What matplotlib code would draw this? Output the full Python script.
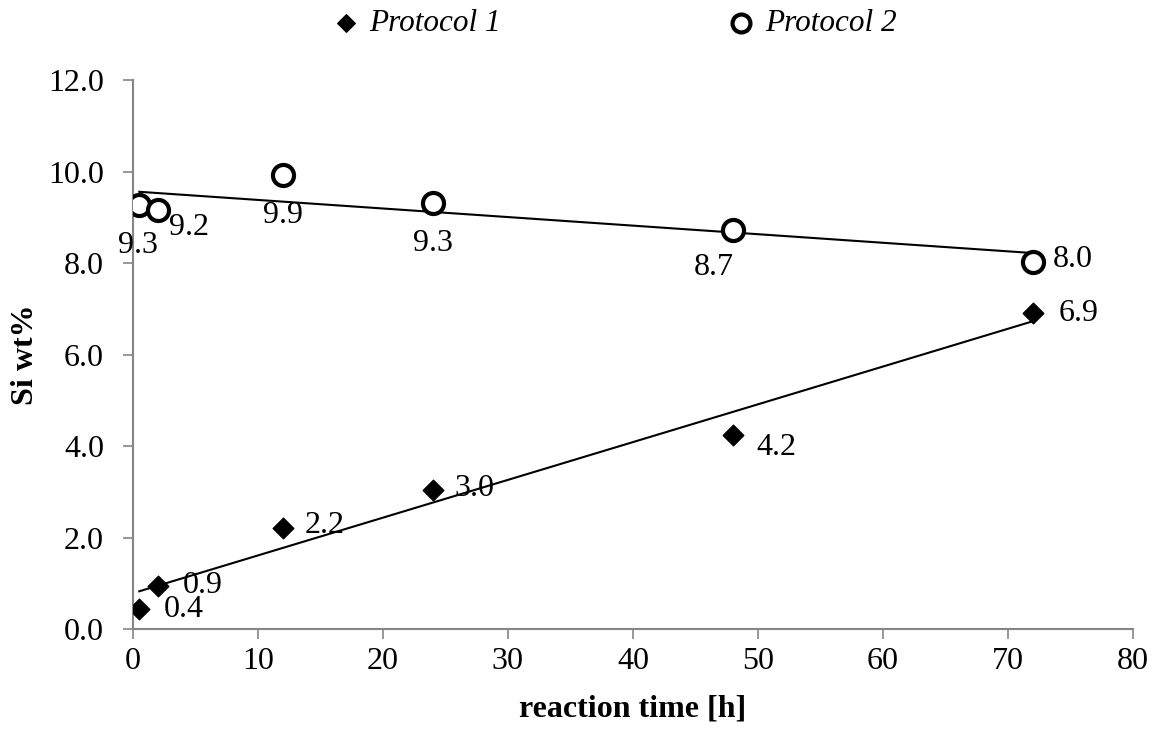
import numpy as np
import matplotlib.pyplot as plt

plt.rcParams['font.family'] = ['Liberation Serif', 'DejaVu Serif']

# reaction time [h]
time_h = [0.5, 2, 12, 24, 48, 72]
# Si wt% values
p1_si = [0.45, 0.95, 2.2, 3.05, 4.25, 6.9]
p2_si = [9.27, 9.17, 9.93, 9.32, 8.73, 8.03]
p1_labels = ["0.4", "0.9", "2.2", "3.0", "4.2", "6.9"]
p2_labels = ["9.3", "9.2", "9.9", "9.3", "8.7", "8.0"]

# label offsets in points (Excel placed them by hand)
p1_off = [(32, -1), (32, 0), (30, 2), (30, 1), (31, -9), (33, 0)]
p2_off = [(-1, -29), (22, -13), (0, -29), (0, -29), (-14, -27), (29, 2)]

fig = plt.figure(figsize=(11.57, 7.29), dpi=100)
ax = fig.add_axes([0.115, 0.137, 0.864, 0.753])

grey = "#868686"
fs = 23

ax.scatter(time_h, p1_si, marker="D", s=110, color="black", zorder=3, label="Protocol 1")
ax.scatter(time_h, p2_si, marker="o", s=230, facecolors="white", edgecolors="black",
           linewidths=3, zorder=3, label="Protocol 2")

# linear trend lines
xs = np.array([min(time_h), max(time_h)])
for ys in (p1_si, p2_si):
    k, b = np.polyfit(time_h, ys, 1)
    ax.plot(xs, k * xs + b, color="black", lw=1.5, zorder=2)

for x, y, t, o in zip(time_h, p1_si, p1_labels, p1_off):
    ax.annotate(t, (x, y), xytext=o, textcoords="offset points",
                ha="center", va="center", fontsize=fs)
for x, y, t, o in zip(time_h, p2_si, p2_labels, p2_off):
    ax.annotate(t, (x, y), xytext=o, textcoords="offset points",
                ha="center", va="center", fontsize=fs)

ax.set_xlim(0, 80)
ax.set_ylim(0, 12)
ax.set_xticks(range(0, 81, 10))
ax.set_yticks(np.arange(0, 12.1, 2))
ax.set_yticklabels([f"{v:.1f}" for v in np.arange(0, 12.1, 2)])
ax.tick_params(axis="both", direction="out", length=7, width=1.2, color=grey,
               labelsize=fs)
ax.tick_params(axis="x", pad=6)
ax.tick_params(axis="y", pad=14)
for side in ("top", "right"):
    ax.spines[side].set_visible(False)
for side in ("left", "bottom"):
    ax.spines[side].set_color(grey)
    ax.spines[side].set_linewidth(1.5)

ax.set_xlabel("reaction time [h]", fontsize=23, fontweight="bold", labelpad=13)
ax.set_ylabel("Si wt%", fontsize=23, fontweight="bold", labelpad=6)

fig.legend(loc="center", bbox_to_anchor=(0.530, 0.968), ncol=2, frameon=False,
           prop={"style": "italic", "size": 22.5}, columnspacing=7.2,
           handlelength=1, handletextpad=0.25, markerscale=0.85)

fig.savefig("out.png", dpi=100)
